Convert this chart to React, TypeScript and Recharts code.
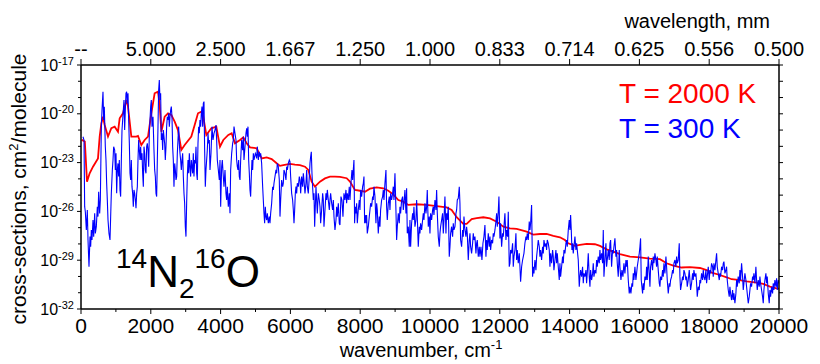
import React from 'react';
import { LineChart, Line, XAxis, YAxis } from 'recharts';

// ---------- data (wavenumber in cm^-1, log10 of cross-section in cm^2/molecule) ----------
const redWavenumber = [
  20, 110, 172, 248, 344, 487, 535, 583, 630, 678,
  774, 869, 965, 1060, 1108, 1203, 1299, 1347, 1442, 1585,
  1633, 1729, 1824, 1920, 2015, 2110, 2206, 2254, 2302, 2397,
  2493, 2588, 2684, 2779, 2875, 2970, 3161, 3257, 3352, 3448,
  3495, 3591, 3734, 3877, 3982, 4078, 4221, 4317, 4412, 4556,
  4651, 4747, 4842, 5033, 5177, 5320, 5463, 5606, 5701, 5797,
  5988, 6131, 6274, 6418, 6513, 6609, 6704, 6847, 6991, 7134,
  7277, 7420, 7612, 7707, 7850, 7993, 8137, 8280, 8471, 8662,
  8805, 8948, 9091, 9235, 9378, 9617, 9904, 10190, 10477, 10620,
  10764, 10955, 11050, 11194, 11337, 11528, 11718, 11910, 12101, 12291,
  12483, 12770, 12958, 13150, 13342, 13532, 13723, 13867, 13962, 14153,
  14296, 14488, 14726, 14870, 15061, 15252, 15443, 15729, 16015, 16302,
  16588, 16780, 16970, 17210, 17448, 17735, 17926, 18070, 18307, 18500,
  18643, 18832, 19072, 19359, 19548, 19740, 19931, 20000,
];
const redLog = [
  -21.6, -21.7, -24.17, -23.66, -23.25, -22.74, -21.4, -20.59, -20.18, -20.69,
  -21.4, -20.89, -20.79, -21.1, -20.28, -19.97, -19.15, -19.56, -21.4, -21.4,
  -21.36, -21.92, -21.61, -21.4, -19.97, -18.74, -18.64, -19.46, -21.1, -20.18,
  -19.97, -20.07, -20.48, -21.0, -22.22, -21.92, -21.4, -20.69, -19.97, -19.87,
  -20.07, -21.3, -20.89, -20.79, -22.02, -21.61, -21.3, -21.2, -21.81, -21.61,
  -21.45, -21.81, -22.06, -22.12, -22.74, -22.68, -22.78, -23.04, -23.2, -23.15,
  -23.08, -23.12, -23.15, -23.25, -23.45, -24.17, -24.48, -24.17, -23.97, -23.86,
  -23.86, -23.88, -23.96, -24.17, -24.68, -24.73, -24.79, -24.6, -24.52, -24.58,
  -24.73, -24.95, -25.3, -25.4, -25.6, -25.56, -25.6, -25.67, -25.75, -25.91,
  -26.36, -26.77, -26.77, -26.48, -26.42, -26.36, -26.43, -26.63, -26.94, -27.04,
  -27.08, -27.24, -27.43, -27.39, -27.39, -27.51, -27.59, -27.76, -27.96, -28.12,
  -28.06, -28.0, -28.02, -28.12, -28.33, -28.47, -28.62, -28.78, -28.82, -28.9,
  -28.94, -29.19, -29.33, -29.45, -29.43, -29.48, -29.61, -29.76, -29.91, -30.05,
  -30.17, -30.21, -30.3, -30.38, -30.46, -30.62, -30.73, -30.75,
];

// T = 300 K, band 1 (0 - 3700 cm-1)
const blueWavenumberA = [
  57, 86, 105, 124, 153, 181, 201, 229, 258, 277,
  296, 315, 344, 363, 392, 411, 439, 468, 487, 506,
  535, 554, 583, 602, 630, 649, 668, 697, 716, 735,
  754, 774, 802, 831, 850, 869, 898, 917, 936, 965,
  984, 1003, 1022, 1041, 1060, 1079, 1098, 1117, 1136, 1156,
  1175, 1194, 1213, 1232, 1251, 1270, 1289, 1308, 1327, 1347,
  1366, 1385, 1404, 1423, 1442, 1461, 1480, 1499, 1518, 1538,
  1557, 1576, 1595, 1614, 1633, 1652, 1671, 1690, 1709, 1729,
  1748, 1767, 1786, 1805, 1824, 1843, 1862, 1881, 1900, 1920,
  1939, 1958, 1977, 1996, 2015, 2034, 2063, 2091, 2111, 2130,
  2149, 2168, 2187, 2206, 2225, 2244, 2263, 2282, 2302, 2321,
  2340, 2359, 2378, 2397, 2416, 2435, 2454, 2473, 2493, 2512,
  2531, 2550, 2569, 2588, 2607, 2626, 2645, 2664, 2684, 2703,
  2722, 2741, 2760, 2779, 2798, 2817, 2836, 2855, 2875, 2894,
  2913, 2932, 2951, 2970, 2989, 3008, 3027, 3046, 3066, 3085,
  3104, 3123, 3142, 3161, 3180, 3199, 3218, 3237, 3257, 3276,
  3295, 3314, 3333, 3352, 3371, 3390, 3409, 3428, 3448, 3467,
  3486, 3505, 3524, 3543, 3562, 3581, 3600, 3619, 3639, 3658,
  3677,
];
const blueLogA = [
  -21.41, -21.61, -25.71, -26.02, -27.14, -25.91, -27.76, -29.4, -27.55, -28.17,
  -27.14, -27.76, -26.53, -27.55, -26.12, -27.35, -26.94, -25.71, -26.32, -24.79,
  -26.12, -25.3, -20.79, -19.77, -18.64, -20.38, -19.56, -22.02, -22.84, -24.27,
  -25.3, -26.53, -27.35, -27.76, -26.32, -24.89, -23.45, -22.84, -22.02, -22.23,
  -23.45, -22.43, -24.89, -23.45, -23.05, -23.86, -22.84, -24.68, -25.09, -22.84,
  -21.0, -20.38, -19.77, -19.15, -21.0, -19.77, -18.74, -18.64, -19.36, -18.74,
  -20.38, -21.82, -23.66, -24.07, -22.84, -24.48, -24.89, -25.71, -24.68, -24.89,
  -25.3, -25.81, -24.89, -24.48, -22.84, -21.61, -22.23, -22.84, -22.02, -22.84,
  -22.43, -23.66, -24.48, -22.02, -22.43, -23.45, -23.66, -22.02, -21.82, -22.23,
  -23.25, -21.2, -20.38, -19.56, -19.15, -20.79, -20.18, -22.23, -23.45, -23.86,
  -24.89, -25.09, -22.84, -20.79, -18.54, -17.92, -19.15, -18.74, -21.61, -21.2,
  -22.23, -21.0, -21.41, -21.82, -22.84, -22.02, -20.79, -20.18, -20.38, -19.97,
  -20.79, -20.18, -19.77, -19.56, -20.18, -22.02, -22.84, -24.48, -23.05, -23.45,
  -24.07, -23.86, -22.43, -21.61, -20.79, -21.82, -22.43, -22.84, -23.45, -22.84,
  -22.43, -23.86, -24.89, -25.5, -26.94, -27.55, -25.5, -23.86, -22.84, -23.66,
  -22.43, -23.25, -23.86, -22.84, -23.25, -23.66, -22.43, -23.86, -22.84, -23.05,
  -22.02, -23.66, -24.07, -21.82, -20.79, -21.2, -20.38, -20.79, -19.97, -19.56,
  -20.79, -19.36, -19.25, -22.23, -24.48, -23.45, -22.84, -22.23, -21.2, -21.82,
  -21.61,
];

// band 2 (3700 - 7400 cm-1)
const blueWavenumberB = [
  3696, 3725, 3753, 3782, 3811, 3839, 3868, 3887, 3906, 3935,
  3963, 3983, 4002, 4030, 4049, 4078, 4097, 4126, 4154, 4174,
  4193, 4221, 4250, 4269, 4288, 4317, 4345, 4365, 4384, 4412,
  4441, 4460, 4479, 4498, 4517, 4536, 4556, 4575, 4603, 4632,
  4651, 4670, 4699, 4727, 4747, 4766, 4785, 4804, 4823, 4842,
  4861, 4880, 4899, 4918, 4938, 4957, 4976, 4995, 5014, 5033,
  5052, 5081, 5109, 5129, 5148, 5176, 5205, 5224, 5243, 5262,
  5281, 5300, 5320, 5339, 5367, 5396, 5415, 5434, 5463, 5491,
  5511, 5530, 5558, 5587, 5606, 5625, 5654, 5682, 5702, 5721,
  5749, 5778, 5797, 5816, 5845, 5873, 5893, 5912, 5940, 5969,
  5988, 6007, 6036, 6064, 6084, 6103, 6122, 6141, 6160, 6179,
  6198, 6227, 6255, 6275, 6294, 6322, 6351, 6370, 6389, 6418,
  6446, 6466, 6485, 6513, 6542, 6561, 6580, 6599, 6618, 6637,
  6657, 6676, 6695, 6714, 6733, 6752, 6771, 6800, 6828, 6848,
  6867, 6895, 6924, 6943, 6962, 6991, 7019, 7039, 7058, 7086,
  7115, 7134, 7153, 7182, 7210, 7230, 7249, 7277, 7306, 7325,
  7344, 7373, 7401,
];
const blueLogB = [
  -23.45, -22.43, -20.79, -21.61, -21.2, -21.0, -20.69, -21.61, -22.84, -23.45,
  -24.07, -22.84, -25.71, -23.25, -22.84, -23.86, -24.48, -23.45, -24.89, -25.3,
  -24.48, -25.71, -24.89, -26.12, -23.45, -22.43, -21.82, -21.61, -20.79, -21.2,
  -21.61, -22.84, -23.25, -23.45, -22.84, -23.86, -24.07, -22.84, -21.61, -22.23,
  -21.41, -22.84, -22.02, -21.2, -20.89, -21.41, -20.79, -22.84, -23.66, -24.68,
  -25.09, -23.86, -22.84, -23.45, -22.43, -22.84, -22.64, -22.43, -22.53, -22.74,
  -22.02, -22.84, -22.33, -22.64, -22.43, -23.05, -24.48, -25.3, -26.12, -26.73,
  -25.71, -26.32, -26.53, -26.12, -26.73, -26.32, -26.73, -26.12, -25.5, -24.48,
  -24.68, -24.27, -23.86, -23.45, -23.66, -23.05, -23.25, -24.07, -26.32, -25.3,
  -24.07, -24.48, -24.27, -23.45, -23.66, -24.07, -23.25, -23.45, -23.05, -22.84,
  -22.94, -23.86, -24.89, -25.3, -25.91, -26.73, -25.91, -24.89, -24.48, -24.89,
  -24.27, -24.48, -23.86, -24.07, -24.89, -23.86, -24.48, -23.66, -24.07, -24.89,
  -24.27, -23.45, -24.48, -24.89, -23.86, -23.05, -22.64, -22.33, -23.66, -24.48,
  -25.3, -24.89, -26.94, -25.71, -24.48, -25.3, -26.12, -24.89, -25.3, -25.71,
  -26.73, -25.91, -24.89, -25.3, -26.94, -25.91, -24.89, -25.3, -24.68, -25.3,
  -25.91, -25.3, -24.89, -25.5, -25.91, -25.3, -26.32, -27.14, -26.53, -25.71,
  -26.32, -25.5, -26.73,
];

// band 3 (7400 - 11420 cm-1)
const blueWavenumberC = [
  7420, 7449, 7477, 7506, 7535, 7563, 7592, 7611, 7630, 7659,
  7687, 7707, 7735, 7764, 7783, 7802, 7821, 7840, 7859, 7878,
  7898, 7917, 7945, 7974, 7993, 8012, 8041, 8069, 8089, 8108,
  8127, 8146, 8165, 8184, 8203, 8232, 8260, 8280, 8299, 8327,
  8356, 8375, 8394, 8423, 8451, 8471, 8490, 8518, 8547, 8566,
  8585, 8614, 8642, 8662, 8681, 8709, 8738, 8757, 8776, 8805,
  8833, 8853, 8872, 8900, 8929, 8948, 8967, 8996, 9024, 9044,
  9063, 9091, 9120, 9139, 9158, 9187, 9215, 9235, 9254, 9282,
  9311, 9330, 9349, 9378, 9406, 9426, 9445, 9473, 9502, 9521,
  9540, 9569, 9597, 9617, 9636, 9664, 9693, 9712, 9731, 9760,
  9788, 9808, 9827, 9855, 9884, 9903, 9922, 9951, 9979, 9999,
  10018, 10046, 10075, 10094, 10113, 10142, 10170, 10190, 10209, 10237,
  10266, 10285, 10304, 10333, 10361, 10381, 10400, 10428, 10457, 10476,
  10495, 10524, 10552, 10572, 10591, 10619, 10648, 10667, 10686, 10715,
  10743, 10763, 10782, 10810, 10839, 10858, 10877, 10906, 10934, 10954,
  10973, 11001, 11030, 11049, 11068, 11097, 11125, 11145, 11164, 11192,
  11221, 11240, 11259, 11288, 11316, 11336, 11355, 11383, 11412,
];
const blueLogC = [
  -26.84, -25.09, -25.3, -26.32, -24.89, -25.3, -24.68, -25.5, -24.89, -25.3,
  -24.48, -25.3, -24.27, -23.45, -24.07, -23.45, -22.84, -26.73, -25.71, -26.12,
  -25.5, -26.73, -25.91, -25.3, -25.91, -24.68, -25.09, -24.48, -24.27, -23.86,
  -26.73, -26.22, -26.73, -26.22, -27.35, -26.94, -26.32, -25.91, -25.5, -25.71,
  -25.09, -25.3, -24.48, -25.09, -26.73, -25.5, -25.91, -27.35, -26.32, -26.94,
  -25.91, -25.3, -25.09, -24.68, -25.3, -24.27, -23.45, -25.71, -26.53, -25.5,
  -25.09, -25.91, -24.89, -25.3, -24.89, -24.48, -25.3, -23.66, -25.91, -27.76,
  -26.94, -26.12, -26.73, -25.71, -26.12, -25.3, -25.09, -25.91, -25.5, -24.68,
  -26.12, -24.58, -27.35, -26.94, -28.17, -26.53, -28.17, -26.73, -26.12, -26.53,
  -25.71, -26.94, -26.53, -25.3, -26.32, -28.17, -26.94, -27.35, -26.73, -27.14,
  -26.53, -26.12, -26.53, -25.5, -26.12, -25.71, -24.68, -26.94, -26.32, -27.35,
  -26.12, -26.53, -25.91, -25.71, -26.22, -25.3, -25.91, -24.68, -26.12, -27.55,
  -28.17, -27.35, -26.94, -26.53, -26.12, -27.35, -26.53, -25.09, -27.35, -26.12,
  -26.53, -25.71, -28.78, -28.17, -27.35, -26.94, -27.55, -26.73, -27.14, -26.94,
  -26.12, -25.91, -25.3, -25.2, -24.48, -25.5, -27.76, -28.17, -27.14, -27.55,
  -26.32, -27.14, -27.55, -26.94, -27.35, -28.99, -27.76, -27.35, -28.17, -28.58,
  -27.96, -27.35, -27.76, -27.55, -28.58, -27.96, -27.76, -28.78, -28.17,
];

// band 4 (11430 - 15430 cm-1)
const blueWavenumberD = [
  11431, 11460, 11488, 11517, 11546, 11574, 11603, 11622, 11641, 11670,
  11698, 11718, 11737, 11765, 11794, 11813, 11832, 11861, 11889, 11909,
  11928, 11956, 11975, 12004, 12023, 12052, 12080, 12100, 12119, 12147,
  12176, 12195, 12224, 12243, 12271, 12291, 12310, 12338, 12367, 12386,
  12405, 12434, 12462, 12482, 12501, 12529, 12558, 12577, 12596, 12625,
  12653, 12673, 12692, 12720, 12749, 12768, 12787, 12816, 12844, 12864,
  12883, 12911, 12940, 12959, 12978, 13007, 13035, 13055, 13074, 13102,
  13131, 13150, 13169, 13198, 13226, 13246, 13265, 13293, 13322, 13341,
  13360, 13389, 13417, 13437, 13456, 13484, 13513, 13532, 13551, 13580,
  13608, 13628, 13647, 13675, 13704, 13723, 13742, 13771, 13799, 13819,
  13838, 13866, 13895, 13914, 13933, 13962, 13990, 14010, 14029, 14048,
  14067, 14086, 14105, 14124, 14153, 14181, 14201, 14220, 14248, 14277,
  14296, 14315, 14344, 14372, 14392, 14411, 14439, 14468, 14487, 14506,
  14535, 14563, 14583, 14602, 14630, 14659, 14678, 14697, 14726, 14754,
  14774, 14793, 14821, 14850, 14869, 14888, 14917, 14945, 14965, 14984,
  15012, 15041, 15060, 15079, 15108, 15136, 15156, 15175, 15203, 15232,
  15251, 15270, 15299, 15327, 15347, 15366, 15394, 15423,
];
const blueLogD = [
  -28.78, -28.17, -28.99, -27.96, -27.55, -26.84, -28.78, -27.76, -28.37, -27.35,
  -28.17, -27.55, -28.37, -27.76, -27.96, -27.35, -27.55, -27.14, -26.63, -26.12,
  -26.94, -26.02, -25.09, -27.66, -26.73, -28.17, -27.35, -27.55, -26.94, -26.12,
  -27.76, -27.14, -27.55, -26.02, -29.4, -29.19, -28.37, -28.58, -27.96, -29.4,
  -28.78, -28.37, -27.35, -28.99, -28.37, -29.19, -28.58, -29.4, -30.32, -29.4,
  -28.99, -28.78, -28.58, -27.96, -27.55, -27.76, -27.35, -27.76, -26.63, -27.14,
  -26.73, -25.61, -30.01, -29.4, -29.81, -28.99, -29.61, -28.78, -28.37, -27.76,
  -28.17, -28.78, -28.37, -28.99, -28.17, -28.58, -27.76, -28.17, -27.96, -28.37,
  -27.76, -27.96, -28.37, -29.4, -28.58, -29.19, -28.37, -28.78, -29.61, -28.99,
  -28.37, -29.19, -28.58, -29.4, -30.22, -29.19, -30.01, -29.4, -28.78, -29.19,
  -28.37, -28.58, -27.96, -27.76, -28.17, -27.14, -26.53, -27.14, -26.22, -27.14,
  -28.37, -27.96, -28.58, -28.17, -27.55, -28.37, -27.96, -28.37, -28.99, -30.63,
  -30.01, -29.61, -30.01, -29.4, -30.42, -29.81, -30.01, -29.61, -30.42, -29.81,
  -28.58, -30.01, -30.63, -29.61, -30.22, -29.81, -29.19, -30.01, -29.61, -29.81,
  -28.99, -29.4, -28.78, -29.19, -28.37, -28.99, -28.58, -29.19, -27.14, -30.01,
  -28.99, -27.96, -29.4, -28.99, -28.37, -28.99, -27.96, -27.76, -29.4, -28.37,
  -28.58, -28.17, -27.66, -28.78, -28.37, -29.19, -30.01, -28.37,
];

// band 5 (15440 - 20000 cm-1)
const blueWavenumberE = [
  15442, 15471, 15499, 15528, 15557, 15585, 15614, 15633, 15652, 15681,
  15709, 15729, 15757, 15786, 15805, 15824, 15843, 15872, 15900, 15920,
  15939, 15967, 15996, 16015, 16034, 16053, 16072, 16091, 16111, 16130,
  16158, 16187, 16206, 16225, 16254, 16282, 16302, 16321, 16349, 16378,
  16397, 16416, 16445, 16473, 16493, 16512, 16540, 16569, 16588, 16607,
  16636, 16664, 16684, 16703, 16731, 16760, 16779, 16798, 16827, 16855,
  16875, 16894, 16922, 16951, 16970, 16989, 17018, 17046, 17066, 17085,
  17113, 17142, 17161, 17180, 17209, 17237, 17257, 17276, 17304, 17333,
  17352, 17371, 17400, 17428, 17448, 17467, 17495, 17524, 17543, 17562,
  17591, 17619, 17639, 17658, 17686, 17715, 17734, 17753, 17782, 17810,
  17830, 17849, 17877, 17906, 17925, 17944, 17973, 18001, 18021, 18040,
  18068, 18097, 18116, 18135, 18164, 18192, 18212, 18231, 18259, 18288,
  18307, 18326, 18355, 18383, 18403, 18422, 18450, 18479, 18498, 18517,
  18546, 18574, 18594, 18613, 18641, 18670, 18689, 18708, 18737, 18765,
  18785, 18804, 18832, 18861, 18880, 18899, 18928, 18956, 18976, 18995,
  19023, 19052, 19071, 19090, 19119, 19147, 19167, 19186, 19214, 19243,
  19262, 19281, 19310, 19338, 19358, 19377, 19405, 19434, 19453, 19472,
  19501, 19529, 19549, 19568, 19596, 19625, 19644, 19663, 19692, 19720,
  19740, 19759, 19787, 19816, 19835, 19854, 19883, 19911, 19931, 19950,
  19978, 19997,
];
const blueLogE = [
  -29.4, -30.22, -29.61, -30.01, -29.19, -29.81, -28.99, -29.4, -28.99, -30.22,
  -31.04, -30.63, -31.04, -30.42, -30.63, -29.81, -30.22, -29.4, -30.22, -29.81,
  -29.4, -28.99, -28.58, -28.17, -27.66, -30.22, -30.63, -31.04, -30.42, -30.83,
  -30.01, -30.22, -29.4, -30.22, -28.78, -29.81, -30.63, -29.4, -28.99, -29.61,
  -28.78, -29.19, -28.58, -28.99, -29.4, -28.78, -29.61, -30.42, -30.63, -30.01,
  -30.22, -29.61, -30.01, -29.19, -29.81, -28.78, -29.4, -30.22, -31.04, -30.42,
  -30.63, -30.22, -30.01, -29.61, -29.81, -29.19, -28.99, -29.4, -28.78, -29.19,
  -28.99, -27.96, -30.01, -30.83, -30.42, -30.01, -30.22, -29.61, -29.81, -30.22,
  -30.01, -30.63, -30.22, -29.61, -30.22, -30.83, -30.42, -29.81, -30.22, -29.61,
  -30.01, -29.81, -30.42, -31.24, -30.63, -30.83, -30.22, -30.42, -29.81, -30.22,
  -29.61, -30.01, -30.22, -29.61, -30.42, -30.01, -29.4, -30.22, -29.61, -29.81,
  -29.19, -29.4, -30.01, -29.19, -29.61, -28.99, -28.58, -29.4, -29.81, -30.22,
  -29.81, -30.01, -29.4, -29.61, -29.19, -29.09, -29.81, -29.61, -29.4, -30.22,
  -30.83, -31.24, -30.63, -31.04, -31.45, -30.83, -31.45, -31.04, -31.65, -31.04,
  -30.22, -30.63, -30.01, -30.42, -29.61, -30.22, -29.19, -30.01, -30.83, -30.42,
  -29.81, -30.22, -30.63, -31.04, -31.65, -31.24, -30.83, -30.42, -30.63, -30.01,
  -30.22, -29.81, -30.42, -29.4, -30.22, -30.83, -30.22, -30.63, -30.01, -30.42,
  -30.83, -31.24, -31.65, -30.83, -30.22, -29.81, -30.42, -30.01, -31.04, -31.65,
  -30.83, -31.24, -30.63, -31.04, -30.42, -30.83, -30.22, -30.63, -30.11, -30.83,
  -30.22, -30.42,
];

// axis ticks / labels
const bottomTicks = [0, 1000, 2000, 3000, 4000, 5000, 6000, 7000, 8000, 9000, 10000,
  11000, 12000, 13000, 14000, 15000, 16000, 17000, 18000, 19000, 20000];
const topTicks = [0, 2000, 4000, 6000, 8000, 10000, 12000, 14000, 16000, 18000, 20000];
const topTickLabels = ['--', '5.000', '2.500', '1.667', '1.250', '1.000', '0.833', '0.714', '0.625', '0.556', '0.500'];
const decadeExponents = [-32, -31, -30, -29, -28, -27, -26, -25, -24, -23, -22, -21, -20, -19, -18, -17];
const labelledExponents = [-32, -29, -26, -23, -20, -17];

// ---------- build series ----------
const zip = (xs: number[], ls: number[]) => {
  const n = Math.min(xs.length, ls.length);
  const out: { x: number; y: number }[] = [];
  for (let i = 0; i < n; i++) out.push({ x: xs[i], y: Math.pow(10, ls[i]) });
  return out;
};
const redData = zip(redWavenumber, redLog);
const blueData = [
  ...zip(blueWavenumberA, blueLogA),
  ...zip(blueWavenumberB, blueLogB),
  ...zip(blueWavenumberC, blueLogC),
  ...zip(blueWavenumberD, blueLogD),
  ...zip(blueWavenumberE, blueLogE),
];
const yTicks = decadeExponents.map((e) => Math.pow(10, e));

const FONT = '"Liberation Sans", Arial, Helvetica, sans-serif';
const W = 820;
const H = 364;
const LEFT = 81;
const RIGHT = 779;
const TOP = 65;
const BOTTOM = 309;

const expOf = (v: number) => Math.round(Math.log10(v));

const LeftTick = (props: any) => {
  const { x, y, payload } = props;
  const e = expOf(payload.value);
  const major = labelledExponents.includes(e);
  return (
    <g>
      <line x1={x - (major ? 4 : 3)} x2={x} y1={y} y2={y} stroke="#000" strokeWidth={1} />
      {major && (
        <text x={x - 7} y={y + 5.5} textAnchor="end" fontFamily={FONT} fontSize={16} fill="#000">
          <tspan>10</tspan>
          <tspan dy={-6} fontSize={11}>{String(e)}</tspan>
        </text>
      )}
    </g>
  );
};

const RightTick = (props: any) => {
  const { x, y } = props;
  return <line x1={x} x2={x + 4} y1={y} y2={y} stroke="#000" strokeWidth={1} />;
};

const BottomTick = (props: any) => {
  const { x, y, payload } = props;
  const v = payload.value as number;
  const major = v % 2000 === 0;
  return (
    <g>
      <line x1={x} x2={x} y1={y} y2={y + (major ? 5 : 3)} stroke="#000" strokeWidth={1} />
      {major && (
        <text x={x} y={y + 24} textAnchor="middle" fontFamily={FONT} fontSize={21} fill="#000">
          {String(v)}
        </text>
      )}
    </g>
  );
};

const TopTick = (props: any) => {
  const { x, y, payload } = props;
  const idx = topTicks.indexOf(payload.value);
  return (
    <g>
      <line x1={x} x2={x} y1={y} y2={y - 6} stroke="#000" strokeWidth={1} />
      <text x={x} y={y - 9} textAnchor="middle" fontFamily={FONT} fontSize={20} fill="#000">
        {idx >= 0 ? topTickLabels[idx] : ''}
      </text>
    </g>
  );
};

export default function App() {
  const axisLine = { stroke: '#000', strokeWidth: 1.5 };
  return (
    <div style={{ position: 'absolute', left: 0, top: 0, width: W, height: H, background: '#fff' }}>
      <LineChart width={W} height={H} margin={{ top: 0, right: 0, bottom: 0, left: 0 }}>
        <XAxis
          xAxisId="bottom"
          dataKey="x"
          type="number"
          orientation="bottom"
          domain={[0, 20000]}
          allowDataOverflow
          ticks={bottomTicks}
          interval={0}
          height={H - BOTTOM}
          tickSize={0}
          tickMargin={0}
          tickLine={false}
          axisLine={axisLine}
          tick={BottomTick}
        />
        <XAxis
          xAxisId="top"
          dataKey="x"
          type="number"
          orientation="top"
          domain={[0, 20000]}
          allowDataOverflow
          ticks={topTicks}
          interval={0}
          height={TOP}
          tickSize={0}
          tickMargin={0}
          tickLine={false}
          axisLine={axisLine}
          tick={TopTick}
        />
        <YAxis
          yAxisId="left"
          orientation="left"
          scale="log"
          type="number"
          domain={[1e-32, 1e-17]}
          allowDataOverflow
          ticks={yTicks}
          interval={0}
          width={LEFT}
          tickSize={0}
          tickMargin={0}
          tickLine={false}
          axisLine={axisLine}
          tick={LeftTick}
        />
        <YAxis
          yAxisId="right"
          orientation="right"
          scale="log"
          type="number"
          domain={[1e-32, 1e-17]}
          allowDataOverflow
          ticks={yTicks}
          interval={0}
          width={W - RIGHT}
          tickSize={0}
          tickMargin={0}
          tickLine={false}
          axisLine={axisLine}
          tick={RightTick}
        />
        <Line
          xAxisId="top"
          yAxisId="right"
          data={redData}
          dataKey="y"
          stroke="none"
          dot={false}
          activeDot={false}
          isAnimationActive={false}
        />
        <Line
          xAxisId="bottom"
          yAxisId="left"
          data={redData}
          dataKey="y"
          type="linear"
          stroke="#ff0000"
          strokeWidth={1.8}
          dot={false}
          activeDot={false}
          isAnimationActive={false}
        />
        <Line
          xAxisId="bottom"
          yAxisId="left"
          data={blueData}
          dataKey="y"
          type="linear"
          stroke="#0000ff"
          strokeWidth={1.1}
          dot={false}
          activeDot={false}
          isAnimationActive={false}
        />
      </LineChart>
      <svg
        width={W}
        height={H}
        style={{ position: 'absolute', left: 0, top: 0, pointerEvents: 'none' }}
      >
        <text x={770} y={28} textAnchor="end" fontFamily={FONT} fontSize={20} fill="#000">
          wavelength, mm
        </text>
        <text x={421} y={357} textAnchor="middle" fontFamily={FONT} fontSize={20} fill="#000">
          <tspan>wavenumber, cm</tspan>
          <tspan dy={-8} fontSize={13}>-1</tspan>
        </text>
        <text
          x={26}
          y={(TOP + BOTTOM) / 2 + 2}
          textAnchor="middle"
          fontFamily={FONT}
          fontSize={21}
          fill="#000"
          transform={`rotate(-90, 26, ${(TOP + BOTTOM) / 2 + 2})`}
        >
          <tspan>cross-sections, cm</tspan>
          <tspan dy={-8} fontSize={13}>2</tspan>
          <tspan dy={8}>/molecule</tspan>
        </text>
        <text x={619} y={103} fontFamily={FONT} fontSize={28} fill="#ff0000">T = 2000 K</text>
        <text x={619} y={138} fontFamily={FONT} fontSize={28} fill="#0000ff">T = 300 K</text>
        <text x={116} y={287} fontFamily={FONT} fontSize={44} fill="#000">
          <tspan dy={-19} fontSize={28}>14</tspan>
          <tspan dy={19}>N</tspan>
          <tspan dy={11} fontSize={28}>2</tspan>
          <tspan dy={-30} fontSize={28}>16</tspan>
          <tspan dy={19}>O</tspan>
        </text>
      </svg>
    </div>
  );
}
